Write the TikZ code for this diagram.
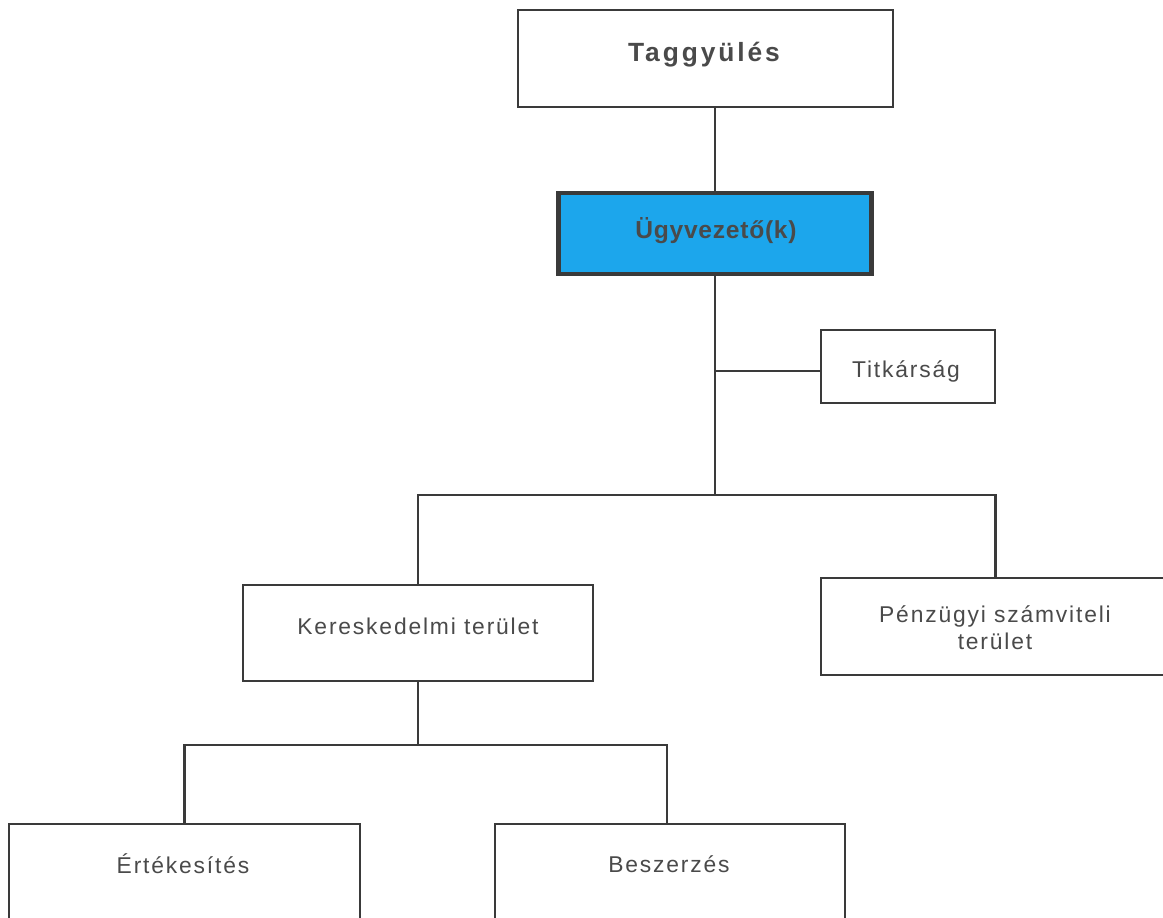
\documentclass[tikz,border=0pt]{standalone}
\usepackage{fontspec}
\newfontfamily\lab[LetterSpace=8]{Liberation Sans}
\newfontfamily\labtag[LetterSpace=11]{Liberation Sans}
\newfontfamily\labugy[LetterSpace=3]{Liberation Sans}
\definecolor{txtgray}{HTML}{4A4A4A}
\definecolor{linegray}{HTML}{3A3A3A}
\definecolor{ugyblue}{HTML}{1CA6EC}
\tikzset{
  box/.style={draw=linegray, line width=1.2pt, fill=white, rectangle, inner sep=0pt},
  bluebox/.style={draw=linegray, line width=2.4pt, fill=ugyblue, rectangle, inner sep=0pt},
  txt/.style={text=txtgray, font=\lab\fontsize{13}{16}\selectfont, align=center, inner sep=0pt},
  conn/.style={draw=linegray, line width=1.2pt}
}
\begin{document}
\begin{tikzpicture}[x=0.02cm, y=-0.02cm]
\useasboundingbox (0,0) rectangle (1163,918);
\clip (0,0) rectangle (1163,918);
\fill[white] (0,0) rectangle (1163,918);
% boxes
\node[box, minimum width=375*0.02cm, minimum height=97*0.02cm] (tag) at (705.5,58.5) {};
\node[bluebox, minimum width=313*0.02cm, minimum height=81*0.02cm] (ugy) at (715,233.5) {};
\node[box, minimum width=174*0.02cm, minimum height=73*0.02cm] (tit) at (908,366.5) {};
\node[box, minimum width=350*0.02cm, minimum height=96*0.02cm] (ker) at (418,633) {};
\node[box, minimum width=349*0.02cm, minimum height=97*0.02cm] (pen) at (995.5,626.5) {};
\node[box, minimum width=351*0.02cm, minimum height=97*0.02cm] (ert) at (184.5,872.5) {};
\node[box, minimum width=350*0.02cm, minimum height=97*0.02cm] (bes) at (670,872.5) {};
% texts
\node[txt, font=\labtag\bfseries\fontsize{15}{18}\selectfont] (tagt) at (704,55) {Taggyülés};
\node[txt, font=\labugy\bfseries\fontsize{14}{17}\selectfont] (ugyt) at (716,231) {Ügyvezető(k)};
\node[txt] (titt) at (906,371) {Titkárság};
\node[txt] (kert) at (418,626) {Kereskedelmi terület};
\node[txt, align=center, font=\lab\fontsize{13}{15.5}\selectfont] (pent) at (995,628) {Pénzügyi számviteli\\terület};
\node[txt] (ertt) at (183,864) {Értékesítés};
\node[txt] (best) at (669,864) {Beszerzés};
% connectors
\coordinate (bus) at (715,495);
\coordinate (titj) at (715,371);
\coordinate (sub) at (418,745);
\draw[conn] (ugy.north) -- (ugy.north |- tag.south);
\draw[conn] (ugy.south) -- (bus);
\draw[conn] (titj) -- (titj -| tit.west);
\draw[conn] (ker.north) |- (bus) -| (pen.north);
\draw[conn] (ker.south) -- (sub);
\draw[conn] (ert.north) |- (sub) -| ([xshift=-3*0.02cm]bes.north);
\end{tikzpicture}
\end{document}
